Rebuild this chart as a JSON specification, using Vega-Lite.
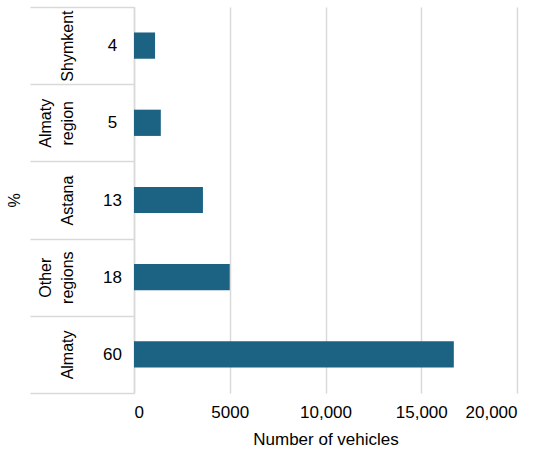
{
  "$schema": "https://vega.github.io/schema/vega-lite/v6.json",
  "width": 383,
  "height": 386,
  "autosize": {"type": "none"},
  "padding": {"left": 134, "top": 7, "right": 33, "bottom": 60},
  "config": {
    "view": {"stroke": null},
    "font": "Liberation Sans",
    "axis": {"labelFont": "Liberation Sans", "titleFont": "Liberation Sans", "labelColor": "#000", "titleColor": "#000"}
  },
  "data": {
    "values": [
      {"region": "Shymkent", "pct": "4", "vehicles": 1100, "order": 1},
      {"region": "Almaty region", "pct": "5", "vehicles": 1400, "order": 2},
      {"region": "Astana", "pct": "13", "vehicles": 3600, "order": 3},
      {"region": "Other regions", "pct": "18", "vehicles": 5000, "order": 4},
      {"region": "Almaty", "pct": "60", "vehicles": 16700, "order": 5}
    ]
  },
  "layer": [
    {
      "mark": {"type": "bar", "height": {"band": 0.34}, "color": "#1b6283"},
      "encoding": {
        "y": {
          "field": "pct", "type": "ordinal", "sort": {"field": "order"},
          "scale": {"paddingInner": 0, "paddingOuter": 0},
          "axis": {
            "title": null, "orient": "left",
            "domainColor": "#d9d9d9", "domainWidth": 1.5,
            "tickBand": "extent", "tickSize": 104, "tickColor": "#d9d9d9", "tickWidth": 1.5,
            "labelAlign": "center", "labelBaseline": "middle", "labelPadding": -82,
            "labelFontSize": 17, "grid": false
          }
        },
        "x": {
          "field": "vehicles", "type": "quantitative",
          "scale": {"domain": [0, 20000]},
          "axis": {
            "title": "Number of vehicles", "titleFontSize": 17, "titleFontWeight": "normal", "titlePadding": 11,
            "values": [0, 5000, 10000, 15000, 20000],
            "labelExpr": "datum.value == 5000 ? '5000' : format(datum.value, ',')",
            "labelFontSize": 17, "labelPadding": 11,
            "domain": false, "ticks": false,
            "grid": true, "gridColor": "#d9d9d9", "gridWidth": 1.5
          }
        }
      }
    },
    {
      "mark": {"type": "text", "opacity": 0},
      "encoding": {
        "y": {
          "field": "region", "type": "ordinal", "sort": {"field": "order"},
          "scale": {"paddingInner": 0, "paddingOuter": 0},
          "axis": {
            "title": "%", "titleFontSize": 16, "titleFontWeight": "normal", "titlePadding": 31,
            "orient": "left", "offset": 44,
            "domain": false, "ticks": false,
            "labelAngle": -90, "labelAlign": "center", "labelBaseline": "middle",
            "labelFlush": false, "labelBound": false, "labelOverlap": false, "labelLimit": 0,
            "labelPadding": 23, "labelFontSize": 16, "labelLineHeight": -22,
            "labelExpr": "reverse(split(datum.value, ' '))",
            "grid": false
          }
        },
        "text": {"value": ""}
      }
    }
  ],
  "resolve": {"scale": {"y": "independent"}}
}
